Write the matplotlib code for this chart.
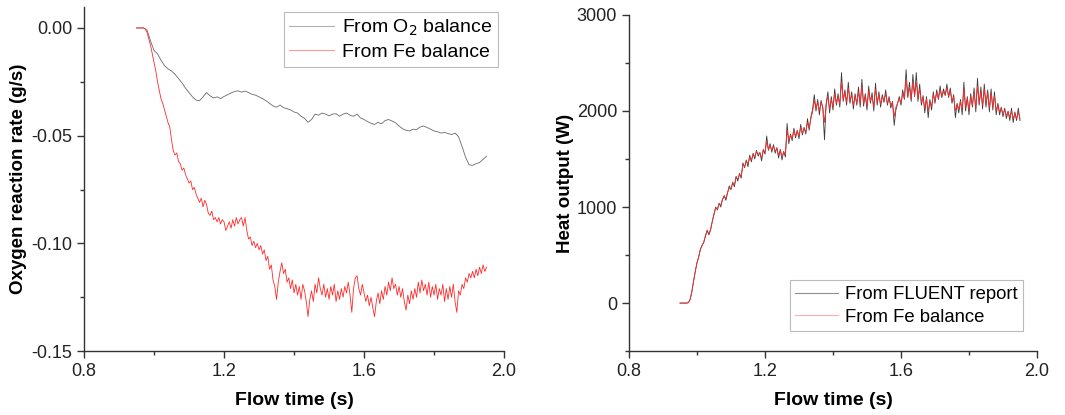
import matplotlib.pyplot as plt
from matplotlib.ticker import MultipleLocator

plt.rcParams['font.family'] = ['Liberation Sans', 'DejaVu Sans']

# flow time (s), coarse grid for the O2 balance curve
t = [0.95, 0.96, 0.97, 0.98, 0.99, 1.00, 1.01, 1.02, 1.03, 1.04,
     1.05, 1.06, 1.07, 1.08, 1.09, 1.10, 1.11, 1.12, 1.13, 1.14,
     1.15, 1.16, 1.17, 1.18, 1.19, 1.20, 1.21, 1.22, 1.23, 1.24,
     1.25, 1.26, 1.27, 1.28, 1.29, 1.30, 1.31, 1.32, 1.33, 1.34,
     1.35, 1.36, 1.37, 1.38, 1.39, 1.40, 1.41, 1.42, 1.43, 1.44,
     1.45, 1.46, 1.47, 1.48, 1.49, 1.50, 1.51, 1.52, 1.53, 1.54,
     1.55, 1.56, 1.57, 1.58, 1.59, 1.60, 1.61, 1.62, 1.63, 1.64,
     1.65, 1.66, 1.67, 1.68, 1.69, 1.70, 1.71, 1.72, 1.73, 1.74,
     1.75, 1.76, 1.77, 1.78, 1.79, 1.80, 1.81, 1.82, 1.83, 1.84,
     1.85, 1.86, 1.87, 1.88, 1.89, 1.90, 1.91, 1.92, 1.93, 1.94,
     1.95]

# flow time (s), fine grid for the noisy curves
t_fine = [0.950, 0.955, 0.960, 0.965, 0.970, 0.975, 0.980, 0.985, 0.990, 0.995,
          1.000, 1.005, 1.010, 1.015, 1.020, 1.025, 1.030, 1.035, 1.040, 1.045,
          1.050, 1.055, 1.060, 1.065, 1.070, 1.075, 1.080, 1.085, 1.090, 1.095,
          1.100, 1.105, 1.110, 1.115, 1.120, 1.125, 1.130, 1.135, 1.140, 1.145,
          1.150, 1.155, 1.160, 1.165, 1.170, 1.175, 1.180, 1.185, 1.190, 1.195,
          1.200, 1.205, 1.210, 1.215, 1.220, 1.225, 1.230, 1.235, 1.240, 1.245,
          1.250, 1.255, 1.260, 1.265, 1.270, 1.275, 1.280, 1.285, 1.290, 1.295,
          1.300, 1.305, 1.310, 1.315, 1.320, 1.325, 1.330, 1.335, 1.340, 1.345,
          1.350, 1.355, 1.360, 1.365, 1.370, 1.375, 1.380, 1.385, 1.390, 1.395,
          1.400, 1.405, 1.410, 1.415, 1.420, 1.425, 1.430, 1.435, 1.440, 1.445,
          1.450, 1.455, 1.460, 1.465, 1.470, 1.475, 1.480, 1.485, 1.490, 1.495,
          1.500, 1.505, 1.510, 1.515, 1.520, 1.525, 1.530, 1.535, 1.540, 1.545,
          1.550, 1.555, 1.560, 1.565, 1.570, 1.575, 1.580, 1.585, 1.590, 1.595,
          1.600, 1.605, 1.610, 1.615, 1.620, 1.625, 1.630, 1.635, 1.640, 1.645,
          1.650, 1.655, 1.660, 1.665, 1.670, 1.675, 1.680, 1.685, 1.690, 1.695,
          1.700, 1.705, 1.710, 1.715, 1.720, 1.725, 1.730, 1.735, 1.740, 1.745,
          1.750, 1.755, 1.760, 1.765, 1.770, 1.775, 1.780, 1.785, 1.790, 1.795,
          1.800, 1.805, 1.810, 1.815, 1.820, 1.825, 1.830, 1.835, 1.840, 1.845,
          1.850, 1.855, 1.860, 1.865, 1.870, 1.875, 1.880, 1.885, 1.890, 1.895,
          1.900, 1.905, 1.910, 1.915, 1.920, 1.925, 1.930, 1.935, 1.940, 1.945,
          1.950]

# oxygen reaction rate (g/s)
o2_balance = [0.0, 0.0, 0.0, -0.001, -0.006, -0.0105, -0.012, -0.015, -0.0175, -0.019,
              -0.020, -0.0215, -0.0235, -0.0255, -0.028, -0.030, -0.032, -0.0335, -0.0338, -0.032,
              -0.030, -0.0315, -0.0325, -0.032, -0.0328, -0.0318, -0.031, -0.0302, -0.0295, -0.0292,
              -0.0298, -0.0293, -0.030, -0.0308, -0.0312, -0.032, -0.0328, -0.0338, -0.035, -0.0362,
              -0.0368, -0.0358, -0.037, -0.0375, -0.038, -0.039, -0.0395, -0.041, -0.042, -0.0438,
              -0.0425, -0.040, -0.0405, -0.0395, -0.040, -0.0408, -0.040, -0.0398, -0.041, -0.040,
              -0.0395, -0.0405, -0.041, -0.040, -0.0418, -0.0425, -0.0435, -0.0442, -0.0448, -0.0438,
              -0.0445, -0.043, -0.0425, -0.0432, -0.044, -0.0455, -0.0468, -0.0475, -0.0478, -0.047,
              -0.0472, -0.046, -0.0455, -0.0462, -0.047, -0.0478, -0.0482, -0.0488, -0.0485, -0.049,
              -0.0495, -0.0488, -0.0505, -0.055, -0.060, -0.0635, -0.0638, -0.063, -0.0625, -0.061,
              -0.0595]
fe_balance = [0.0, 0.0, 0.0, 0.0, 0.0, -0.0005, -0.002, -0.005, -0.008, -0.012,
              -0.016, -0.020, -0.025, -0.029, -0.033, -0.035, -0.038, -0.041, -0.044, -0.046,
              -0.052, -0.057, -0.059, -0.058, -0.062, -0.063, -0.066, -0.065, -0.068, -0.070,
              -0.072, -0.071, -0.075, -0.074, -0.077, -0.079, -0.081, -0.079, -0.083, -0.080,
              -0.082, -0.086, -0.087, -0.085, -0.089, -0.088, -0.090, -0.088, -0.091, -0.089,
              -0.090, -0.094, -0.092, -0.090, -0.093, -0.089, -0.092, -0.088, -0.091, -0.089,
              -0.088, -0.092, -0.088, -0.094, -0.098, -0.097, -0.101, -0.099, -0.102, -0.100,
              -0.103, -0.101, -0.105, -0.103, -0.108, -0.106, -0.112, -0.110, -0.117, -0.120,
              -0.126, -0.118, -0.113, -0.109, -0.114, -0.112, -0.118, -0.116, -0.121, -0.117,
              -0.123, -0.119, -0.124, -0.120, -0.126, -0.119, -0.122, -0.127, -0.134, -0.126,
              -0.122, -0.127, -0.119, -0.123, -0.116, -0.121, -0.124, -0.119, -0.125, -0.121,
              -0.126, -0.120, -0.124, -0.119, -0.127, -0.122, -0.126, -0.121, -0.125, -0.120,
              -0.123, -0.118, -0.124, -0.132, -0.121, -0.116, -0.115, -0.121, -0.124, -0.119,
              -0.123, -0.127, -0.124, -0.129, -0.125, -0.130, -0.134, -0.127, -0.123, -0.128,
              -0.122, -0.126, -0.120, -0.124, -0.118, -0.122, -0.116, -0.121, -0.119, -0.124,
              -0.120, -0.125, -0.121, -0.127, -0.131, -0.124, -0.128, -0.122, -0.126, -0.121,
              -0.125, -0.118, -0.123, -0.117, -0.122, -0.119, -0.124, -0.118, -0.125, -0.120,
              -0.124, -0.119, -0.126, -0.121, -0.124, -0.119, -0.127, -0.121, -0.126, -0.120,
              -0.125, -0.119, -0.127, -0.132, -0.122, -0.124, -0.119, -0.121, -0.116, -0.118,
              -0.114, -0.116, -0.113, -0.116, -0.112, -0.115, -0.111, -0.114, -0.110, -0.113,
              -0.111]

# heat output (W)
heat_fluent = [0, 0, 0, 0, 0, 5, 40, 120, 230, 330,
               420, 480, 560, 600, 630, 700, 760, 710, 760, 850,
               930, 1000, 970, 1040, 1000, 1080, 1120, 1070, 1150, 1220,
               1180, 1260, 1210, 1320, 1270, 1350, 1300, 1460, 1410, 1490,
               1420, 1540, 1470, 1560, 1500, 1590, 1530, 1570, 1480, 1600,
               1550, 1740, 1590, 1660, 1570, 1650, 1560, 1620, 1510, 1600,
               1490, 1580, 1520, 1870, 1660, 1760, 1690, 1820, 1720, 1800,
               1710, 1860, 1750, 1830, 1760, 1920, 1800, 1940, 2020, 2170,
               2000, 2120, 1960, 2110, 2030, 1700, 2080, 2200, 1980, 2150,
               2010, 2230, 2060, 2180, 2040, 2400, 2100, 2220, 2060, 2300,
               2080, 2200, 2020, 2180, 2060, 2250, 2040, 2330, 2050, 2180,
               2010, 2260, 2080, 2190, 2000, 2290, 2060, 2200, 2040, 2170,
               2090, 2220, 2060, 2150, 2030, 2100, 1850, 2010, 2080, 2150,
               2060, 2220, 2120, 2430, 2140, 2300, 2100, 2380, 2150, 2400,
               2100, 2280, 2060, 2160, 1980, 2150, 1930, 2120, 2010, 2200,
               2080, 2220, 2120, 2260, 2140, 2230, 2160, 2280, 2140, 2240,
               2080, 2170, 1930, 2080, 1980, 2120, 1960, 2300, 2000, 2150,
               1960, 2180, 2040, 2240, 1990, 2340, 2060, 2250, 2020, 2280,
               2040, 2220, 1990, 2230, 2010, 2200, 1960, 2080, 1960, 2040,
               1940, 2030, 1920, 2000, 1900, 2030, 1880, 1990, 1900, 2030,
               1900]
heat_fe = [0, 0, 0, 0, 0, 5, 40, 120, 230, 330,
           420, 480, 560, 600, 640, 700, 750, 720, 770, 850,
           920, 990, 980, 1030, 1020, 1080, 1110, 1090, 1150, 1200,
           1190, 1250, 1230, 1310, 1290, 1340, 1320, 1440, 1420, 1480,
           1450, 1520, 1490, 1550, 1520, 1580, 1550, 1560, 1510, 1590,
           1570, 1680, 1600, 1640, 1590, 1630, 1580, 1610, 1540, 1590,
           1530, 1570, 1550, 1800, 1690, 1750, 1710, 1800, 1740, 1790,
           1740, 1830, 1770, 1820, 1780, 1880, 1820, 1920, 1990, 2110,
           2020, 2090, 2000, 2090, 2040, 1880, 2070, 2150, 2020, 2120,
           2040, 2180, 2080, 2150, 2070, 2300, 2120, 2190, 2090, 2240,
           2100, 2170, 2060, 2160, 2080, 2200, 2070, 2260, 2080, 2160,
           2050, 2210, 2100, 2160, 2040, 2230, 2090, 2170, 2070, 2150,
           2100, 2180, 2080, 2130, 2060, 2090, 1940, 2040, 2080, 2130,
           2080, 2180, 2130, 2320, 2150, 2250, 2120, 2300, 2160, 2300,
           2130, 2230, 2090, 2140, 2030, 2130, 2000, 2100, 2050, 2170,
           2100, 2190, 2130, 2220, 2150, 2200, 2170, 2240, 2150, 2210,
           2110, 2150, 2000, 2070, 2020, 2100, 2010, 2230, 2040, 2130,
           2010, 2150, 2060, 2200, 2030, 2260, 2080, 2210, 2060, 2230,
           2070, 2190, 2030, 2190, 2040, 2160, 2000, 2070, 1990, 2030,
           1970, 2010, 1950, 1990, 1930, 2000, 1920, 1970, 1920, 1990,
           1920]

fig = plt.figure(figsize=(10.65, 4.15), dpi=100)
ax1 = fig.add_axes([0.0789, 0.154, 0.3944, 0.829])
ax2 = fig.add_axes([0.5906, 0.154, 0.3831, 0.810])

ax1.plot(t, o2_balance, color='#6a6a6a', lw=0.6, label='From O$_2$ balance')
ax1.plot(t_fine, fe_balance, color='#ff2a2a', lw=0.6, label='From Fe balance')
ax1.set_xlim(0.8, 2.0)
ax1.set_ylim(-0.15, 0.0097)
ax1.set_yticks([0.0, -0.05, -0.10, -0.15])
ax1.set_yticklabels(['0.00', '-0.05', '-0.10', '-0.15'])
ax1.yaxis.set_minor_locator(MultipleLocator(0.025))
ax1.set_ylabel('Oxygen reaction rate (g/s)', fontsize=13.5, fontweight='bold', labelpad=3)

ax2.plot(t_fine, heat_fluent, color='#3a3a3a', lw=0.6, label='From FLUENT report')
ax2.plot(t_fine, heat_fe, color='#ff2a2a', lw=0.6, label='From Fe balance')
ax2.set_xlim(0.8, 2.0)
ax2.set_ylim(-500, 3000)
ax2.yaxis.set_major_locator(MultipleLocator(1000))
ax2.yaxis.set_minor_locator(MultipleLocator(500))
ax2.set_ylabel('Heat output (W)', fontsize=13.5, fontweight='bold', labelpad=2)

for ax in (ax1, ax2):
    ax.spines['top'].set_visible(False)
    ax.spines['right'].set_visible(False)
    for s in ('left', 'bottom'):
        ax.spines[s].set_color('#333333')
        ax.spines[s].set_linewidth(1.0)
    ax.set_xticks([0.8, 1.2, 1.6, 2.0])
    ax.set_xticklabels(['0.8', '1.2', '1.6', '2.0'])
    ax.xaxis.set_minor_locator(MultipleLocator(0.2))
    ax.tick_params(which='major', direction='out', length=5, width=1, color='#333333',
                   labelsize=13, labelcolor='#222222')
    ax.tick_params(which='minor', direction='out', length=3, width=1, color='#333333')
    ax.set_xlabel('Flow time (s)', fontsize=14, fontweight='bold', labelpad=9)

leg1 = ax1.legend(loc='upper right', bbox_to_anchor=(0.986, 0.985), borderaxespad=0,
                  fontsize=14, frameon=True, fancybox=False, edgecolor='#aaaaaa',
                  handlelength=2.3, handletextpad=0.4, borderpad=0.3, labelspacing=0.25)
leg2 = ax2.legend(loc='lower right', bbox_to_anchor=(0.966, 0.0595), borderaxespad=0,
                  fontsize=13.3, frameon=True, fancybox=False, edgecolor='#aaaaaa',
                  handlelength=2.3, handletextpad=0.4, borderpad=0.3, labelspacing=0.3)
for leg, cols in ((leg1, ['#b0b0b0', '#f4a0a0']), (leg2, ['#909090', '#f4b0b0'])):
    leg.get_frame().set_linewidth(0.8)
    for h, c in zip(leg.get_lines(), cols):
        h.set_color(c)
        h.set_linewidth(0.8)

fig.savefig('out.png', dpi=100)
